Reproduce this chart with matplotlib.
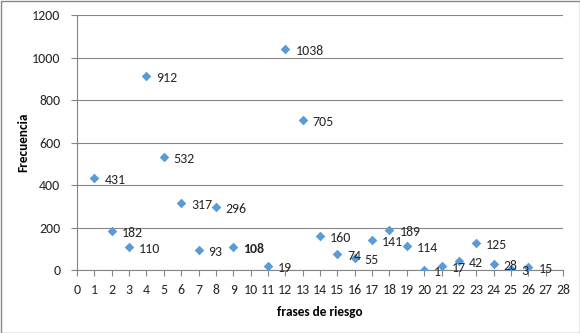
import matplotlib
matplotlib.use("Agg")
import matplotlib.pyplot as plt
from matplotlib.patches import Rectangle

plt.rcParams['font.family'] = ['Carlito', 'Open Sans', 'DejaVu Sans']

frases = [1, 2, 3, 4, 5, 6, 7, 8, 9, 11, 12, 13, 14, 15, 16, 17, 18, 19,
          20, 21, 22, 23, 24, 25, 26]
frecuencia = [431, 182, 110, 912, 532, 317, 93, 296, 108, 19, 1038, 705,
              160, 74, 55, 141, 189, 114, 1, 17, 42, 125, 28, 3, 15]

BLUE = '#5B9BD5'
GRID = '#868686'

fig = plt.figure(figsize=(5.8, 3.33), dpi=100)
ax = fig.add_axes([77 / 580, 1 - 270 / 333, 486 / 580, 255 / 333])

ax.scatter(frases, frecuencia, marker='D', s=24, color=BLUE, zorder=3,
           linewidths=0)
for x, y in zip(frases, frecuencia):
    ax.annotate(str(y), (x, y), xytext=(10, -2), textcoords='offset pixels',
                ha='left', va='center', fontsize=10, color='#262626',
                fontweight='bold' if y == 108 else 'normal')

ax.set_xlim(0, 28)
ax.set_ylim(0, 1200)
ax.set_xticks(range(0, 29))
ax.set_yticks(range(0, 1201, 200))
ax.yaxis.grid(True, color=GRID, linewidth=0.8)
ax.set_axisbelow(True)

for side in ('top', 'right'):
    ax.spines[side].set_visible(False)
for side in ('left', 'bottom'):
    ax.spines[side].set_color(GRID)
    ax.spines[side].set_linewidth(0.8)
ax.tick_params(axis='both', colors=GRID, length=4, width=0.8,
               labelcolor='#262626', labelsize=10)
ax.tick_params(axis='x', pad=6)
ax.tick_params(axis='y', pad=8)

ax.set_xlabel('frases de riesgo', fontsize=9.5, fontweight='bold', labelpad=7)
ax.set_ylabel('Frecuencia', fontsize=9.5, fontweight='bold', labelpad=2)

fig.patches.append(Rectangle((0.5 / 580, 0.5 / 333), 579 / 580, 332 / 333,
                             transform=fig.transFigure, fill=False,
                             edgecolor='#868686', linewidth=1))

fig.savefig('out.png', dpi=100)
